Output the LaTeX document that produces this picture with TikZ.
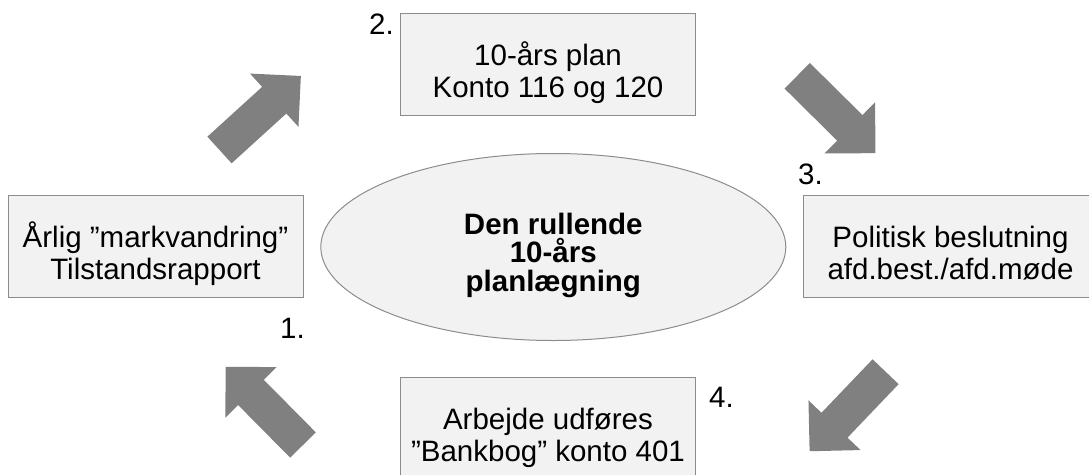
\documentclass[tikz,border=0pt]{standalone}
\usepackage{fontspec}
\setmainfont{Liberation Sans}
\usetikzlibrary{shapes.geometric}
\definecolor{panelfill}{HTML}{F2F2F2}
\definecolor{panelline}{HTML}{8C8C8C}
\definecolor{flowgray}{HTML}{808080}
% invisible struts that set the text a little below the middle of each box
\newcommand{\stepstrut}{\rule{0pt}{43pt}}
\newcommand{\stepfoot}{\rule[-8pt]{0pt}{8pt}}
\tikzset{
  stepbox/.style={draw=panelline, fill=panelfill, line width=1pt,
    minimum width=295pt, minimum height=102pt, inner sep=0pt, align=center,
    font=\fontsize{29.5}{32}\selectfont},
  hub/.style={ellipse, draw=panelline, fill=panelfill, line width=1pt,
    minimum width=465pt, minimum height=187pt, inner sep=0pt, align=center,
    font=\fontsize{29.5}{28.5}\bfseries\selectfont},
  stepnum/.style={anchor=base west, inner sep=0pt, font=\fontsize{29.5}{32}\selectfont},
  % broad grey arrow: tail centre at the origin, pointing along +x
  blockarrow/.pic={\fill[flowgray] (0,18) -- (74,18) -- (74,36) -- (110,0)
    -- (74,-36) -- (74,-18) -- (0,-18) -- cycle;}
}
\begin{document}
\begin{tikzpicture}[x=1pt, y=-1pt]
\useasboundingbox (0,0) rectangle (1089,474);

% the four steps of the cycle
\node[stepbox] (survey)   at (155.5,246) {\stepstrut Årlig ”markvandring”\\Tilstandsrapport\stepfoot};
\node[stepbox] (plan)     at (548,64)    {\stepstrut 10-års plan\\Konto 116 og 120\stepfoot};
\node[stepbox] (decision) at (950.5,246) {\stepstrut Politisk beslutning\\afd.best./afd.møde\stepfoot};
\node[stepbox] (works)    at (548,428)   {\stepstrut Arbejde udføres\\”Bankbog” konto 401\stepfoot};

% centre
\node[hub] (cycle) at (553.3,247) {\rule{0pt}{37.5pt}Den rullende\\10-års\\planlægning};

% step numbers
\node[stepnum] (n1) at (280,338) {1.};
\node[stepnum] (n2) at (369,34)  {2.};
\node[stepnum] (n3) at (798,184) {3.};
\node[stepnum] (n4) at (709,407) {4.};

% arrows running clockwise round the centre
\pic[rotate=42.3]   at (219.5,150) {blockarrow};
\pic[rotate=-44.7]  at (797.2,75.8) {blockarrow};
\pic[rotate=-133.7] at (885.6,371.7) {blockarrow};
\pic[rotate=134.7]  at (303,445) {blockarrow};
\end{tikzpicture}
\end{document}
